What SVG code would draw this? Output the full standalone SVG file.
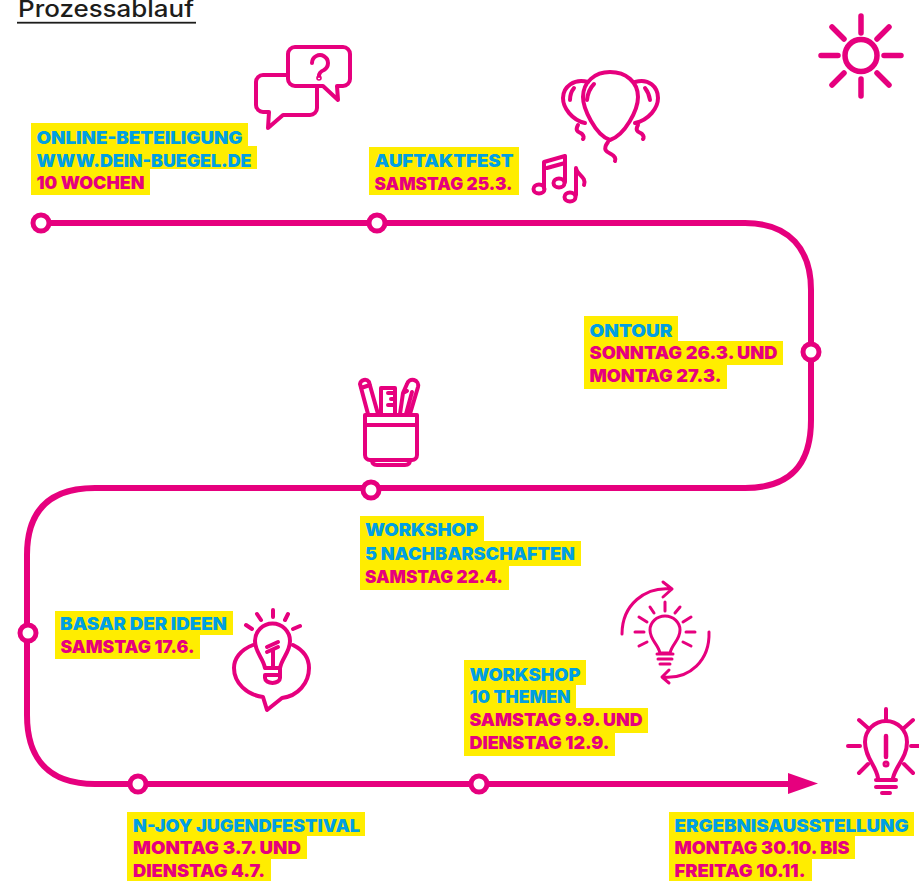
<svg xmlns="http://www.w3.org/2000/svg" width="919" height="881" viewBox="0 0 919 881">
<style>
.hl{fill:#ffed00}
.b,.m{font-family:"Inter","Lato","Liberation Sans",sans-serif;font-weight:900;font-size:17.500px}
.b{fill:#009fe3}.m{fill:#e6007e}
.ic{fill:none;stroke:#e6007e;stroke-width:4;stroke-linecap:round;stroke-linejoin:round}
.dot{fill:#fff;stroke:#e6007e;stroke-width:5}
</style>
<rect width="919" height="881" fill="#fff"/>
<g id="title"><text x="18" y="17" font-family="Inter,Lato,'Liberation Sans',sans-serif" font-size="23" font-weight="500" fill="#1d1d1b" textLength="176" lengthAdjust="spacingAndGlyphs">Prozessablauf</text><rect x="17" y="21.800" width="179" height="1.800" fill="#1d1d1b"/></g>
<g id="connectors">
<path d="M41 223H745C790 223 811 250 811 290V420C811 465 790 488 745 488H95C50 488 27 510 27 555V715C27 760 50 784 95 784H795" fill="none" stroke="#e6007e" stroke-width="6"/>
<path d="M788 773L818 783.500L788 794Z" fill="#e6007e"/>
</g>
<g id="node-online"><circle class="dot" cx="41" cy="223" r="8"/>
<path class="hl" d="M31 123H248V146H257V169H150V195H31Z"/>
<text class="b" x="36.500" y="143.500" textLength="206" lengthAdjust="spacingAndGlyphs">ONLINE-BETEILIGUNG</text>
<text class="b" x="36.500" y="166.500" textLength="215" lengthAdjust="spacingAndGlyphs">WWW.DEIN-BUEGEL.DE</text>
<text class="m" x="36.500" y="189" textLength="108" lengthAdjust="spacingAndGlyphs">10 WOCHEN</text></g>
<g id="node-auftakt"><circle class="dot" cx="377" cy="223" r="8"/>
<path class="hl" d="M369 147H519V195H369Z"/>
<text class="b" x="374.500" y="166.500" textLength="139" lengthAdjust="spacingAndGlyphs">AUFTAKTFEST</text>
<text class="m" x="374.500" y="189.500" textLength="138" lengthAdjust="spacingAndGlyphs">SAMSTAG 25.3.</text></g>
<g id="node-ontour"><circle class="dot" cx="811" cy="352" r="8"/>
<path class="hl" d="M584 316H678V341H783V365H727V389H584Z"/>
<text class="b" x="589.500" y="336.500" textLength="83" lengthAdjust="spacingAndGlyphs">ONTOUR</text>
<text class="m" x="589.500" y="358.500" textLength="188" lengthAdjust="spacingAndGlyphs">SONNTAG 26.3. UND</text>
<text class="m" x="589.500" y="381.500" textLength="132" lengthAdjust="spacingAndGlyphs">MONTAG 27.3.</text></g>
<g id="node-workshop5"><circle class="dot" cx="371" cy="490" r="8"/>
<path class="hl" d="M360 516H484V541H581V566H509V590H360Z"/>
<text class="b" x="365" y="535.500" textLength="113" lengthAdjust="spacingAndGlyphs">WORKSHOP</text>
<text class="b" x="365" y="559.500" textLength="210" lengthAdjust="spacingAndGlyphs">5 NACHBARSCHAFTEN</text>
<text class="m" x="365" y="583" textLength="138" lengthAdjust="spacingAndGlyphs">SAMSTAG 22.4.</text></g>
<g id="node-basar"><circle class="dot" cx="28" cy="633" r="8"/>
<path class="hl" d="M55 611H233V635H200V659H55Z"/>
<text class="b" x="60" y="630" textLength="167" lengthAdjust="spacingAndGlyphs">BASAR DER IDEEN</text>
<text class="m" x="60.500" y="653" textLength="134" lengthAdjust="spacingAndGlyphs">SAMSTAG 17.6.</text></g>
<g id="node-workshop10">
<path class="hl" d="M464 660H586V685H576V708H648V733H615V756H464Z"/>
<text class="b" x="469.500" y="680.500" textLength="111" lengthAdjust="spacingAndGlyphs">WORKSHOP</text>
<text class="b" x="469.500" y="703" textLength="101" lengthAdjust="spacingAndGlyphs">10 THEMEN</text>
<text class="m" x="469.500" y="725.500" textLength="173" lengthAdjust="spacingAndGlyphs">SAMSTAG 9.9. UND</text>
<text class="m" x="469.500" y="748.500" textLength="140" lengthAdjust="spacingAndGlyphs">DIENSTAG 12.9.</text>
<circle class="dot" cx="479" cy="784" r="8"/></g>
<g id="node-njoy"><circle class="dot" cx="138" cy="784" r="8"/>
<path class="hl" d="M127 812H365V836H307V859H271V882H127Z"/>
<text class="b" x="133" y="831.800" textLength="227" lengthAdjust="spacingAndGlyphs">N-JOY JUGENDFESTIVAL</text>
<text class="m" x="133" y="854" textLength="168" lengthAdjust="spacingAndGlyphs">MONTAG 3.7. UND</text>
<text class="m" x="133" y="877" textLength="132" lengthAdjust="spacingAndGlyphs">DIENSTAG 4.7.</text></g>
<g id="node-ergebnis">
<path class="hl" d="M669 812H914V836H855V859H812V882H669Z"/>
<text class="b" x="674.500" y="831.800" textLength="234" lengthAdjust="spacingAndGlyphs">ERGEBNISAUSSTELLUNG</text>
<text class="m" x="674.500" y="854" textLength="175" lengthAdjust="spacingAndGlyphs">MONTAG 30.10. BIS</text>
<text class="m" x="674.500" y="877" textLength="131" lengthAdjust="spacingAndGlyphs">FREITAG 10.11.</text></g>
<g id="icon-chat" class="ic">
<path d="M287 75H263a7 7 0 0 0-7 7V105a7 7 0 0 0 7 7H269L268 128L283 115H310a7 7 0 0 0 7-7V87"/>
<path d="M295 47H343a7 7 0 0 1 7 7V79a7 7 0 0 1-7 7H337L338 100L323 86H295a7 7 0 0 1-7-7V54a7 7 0 0 1 7-7Z"/>
<path d="M312 63a8 8 0 1 1 12 7q-5 2-5 6"/>
<circle cx="319" cy="78" r=".8"/>
</g>
<g id="icon-balloons" class="ic">
<path d="M610 140C595 135 583 108 583 97C583 82 595 72 610 72C626 72 638 82 638 97C638 110 625 135 610 140Z"/>
<path d="M588 82C574 78 563 87 563 98C563 108 572 120 585 123"/>
<path d="M635 82C649 78 658 87 658 98C658 108 649 120 635 123"/>
<path d="M594 84Q588 90 587 100M574 88Q570 93 570 100M645 88Q649 93 650 100"/>
<path d="M608 142C602 150 607 152 611 154C615 156 616 159 615 161"/>
<path d="M578 125C574 132 580 132 582 134C584 136 584 138 583 139"/>
<path d="M638 125C634 132 640 132 642 134C644 136 644 138 643 139"/>
</g>
<g id="icon-notes" class="ic">
<path d="M544 188V162L565 156V182M547 168L565 163"/>
<ellipse cx="539" cy="189" rx="5.500" ry="4.500"/><ellipse cx="559" cy="183" rx="5.500" ry="4.500"/>
<ellipse cx="570" cy="197" rx="5.500" ry="4.500"/>
<path d="M576 195V168C577 175 587 177 584 185"/>
</g>
<g id="icon-sun" class="ic" style="stroke-width:5.500">
<circle cx="861" cy="55.500" r="16"/>
<path d="M861 16V33M861 79V96M821 55.500H838M884 55.500H901M832 27L844 39M889 27L877 39M844 73L832 85M877 73L889 85"/>
</g>
<g id="icon-cup" class="ic">
<path d="M365 415H417V455a5 5 0 0 1-5 5H370a5 5 0 0 1-5-5ZM365 425H417M372 460q0 5 5 5H405q5 0 5-5"/>
<path d="M368 414L360 384a5 5 0 0 1 9-2L378 414M361 388L370 385"/>
<path d="M381 414V388H395V414M388 393H395M391 399H395M388 405H395"/>
<path d="M400 414L403 393L407 391M406 414L412 392M403 393L407 384a5 5 0 0 1 11 3L410 414"/>
</g>
<g id="icon-idea" class="ic">
<path d="M253 645C240 650 234 659 234 668C234 683 247 695 263 697L267 710L282 698C298 696 309 683 309 668C309 658 303 650 293 645"/>
<path d="M265 668C263 658 255 652 255 641A17.500 17.500 0 0 1 290 641C290 652 282 658 280 668M265 668H280V678a7.500 5 0 0 1-15 0V675H280"/>
<path d="M273 650V668M267 647L278 642M267 652L278 647"/>
<path d="M273 610V617M257 614L261 620M288 614L285 620M246 625L252 629M300 626L293 629"/>
</g>
<g id="icon-cycle" class="ic" style="stroke-width:3">
<path d="M622 634C622 605 645 586 672 589M663 582L672 589L663 597"/>
<path d="M709 632C710 660 690 680 662 677M669 670L662 677L669 683"/>
<path d="M660 653C658 644 650 640 650 630A15 14 0 0 1 680 630C680 640 672 644 670 653ZM657 654H673M658 659H672M660 664H670"/>
<path d="M665 602V611M650 607L654 613M680 607L675 613M639 617L647 622M691 617L683 622M635 632H644M686 632H695M639 646L647 642M691 646L683 642"/>
</g>
<g id="icon-alert" class="ic">
<path d="M878 778C876 765 865 758 865 742A21 21 0 0 1 907 742C907 758 896 765 893 778M876 780H896M876 787H896M882 793H890"/>
<path d="M886 709V720M859 720L868 728M913 720L904 728M848 746H860M911 746H919M859 773L868 764M913 773L904 764"/>
<path d="M886 736V757" style="stroke-width:4.500"/><circle cx="886" cy="764" r="1.500"/>
</g>
</svg>
